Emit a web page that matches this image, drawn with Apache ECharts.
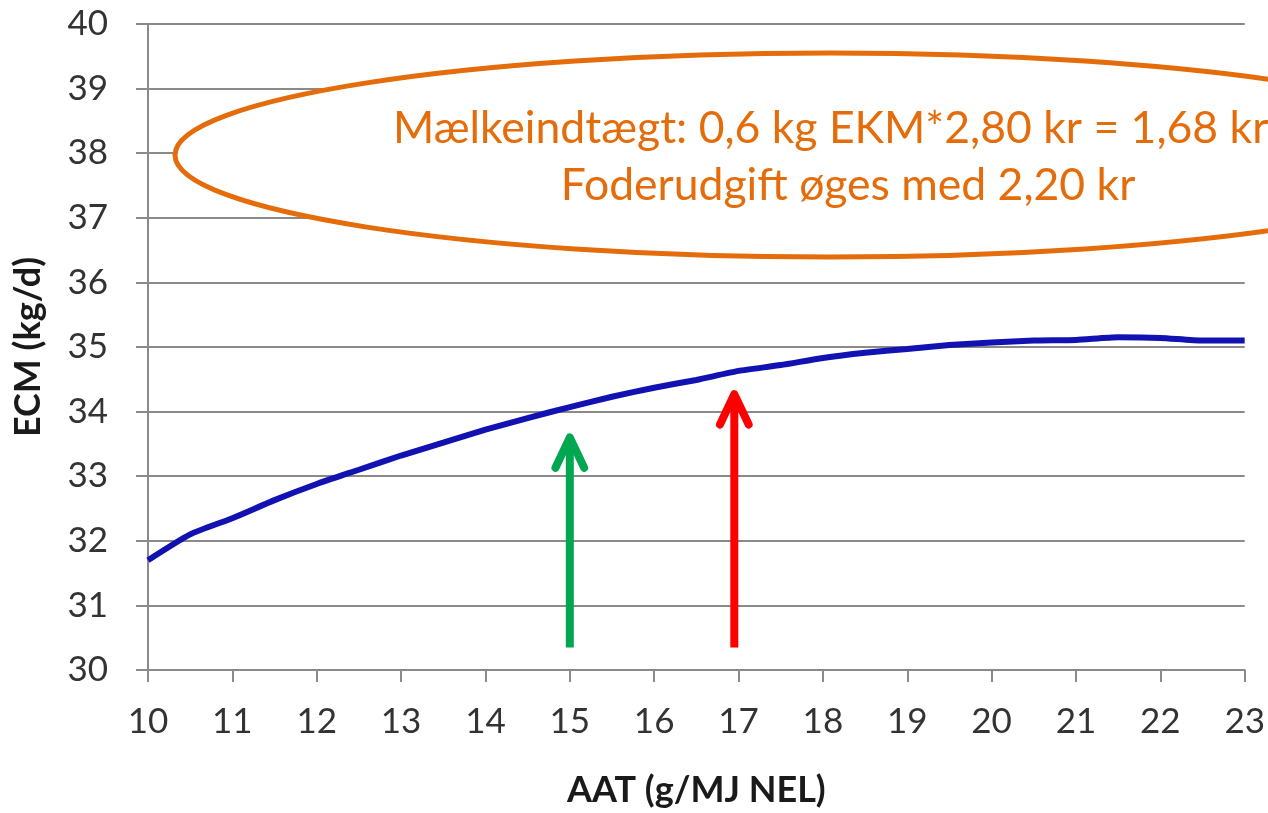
<!DOCTYPE html>
<html><head><meta charset="utf-8">
<script src="https://cdn.jsdelivr.net/npm/echarts@6/dist/echarts.min.js"></script>
<style>html,body{margin:0;padding:0;background:#fff}#c{width:1268px;height:813px}</style>
</head><body><div id="c"></div>
<script>
const aat = [10,10.5,11,11.5,12,12.5,13,13.5,14,14.5,15,15.5,16,16.5,17,17.5,18,18.5,19,19.5,20,20.5,21,21.5,22,22.5,23];
const ecm = [31.7,32.1,32.35,32.63,32.88,33.1,33.32,33.52,33.72,33.9,34.07,34.23,34.37,34.49,34.63,34.72,34.83,34.91,34.97,35.03,35.07,35.1,35.11,35.15,35.14,35.1,35.1];
const arrowX = [15, 16.95];
const arrowBase = [30.35, 30.35];
const arrowTip = [33.6, 34.27];
const arrowColors = ['#00A650', '#FF0000'];
const noteLine1 = 'Mælkeindtægt: 0,6 kg EKM*2,80 kr = 1,68 kr/dag';
const noteLine2 = 'Foderudgift øges med 2,20 kr';
const xTitle = 'AAT (g/MJ NEL)';
const yTitle = 'ECM (kg/d)';

const FONT = 'Lato, "Open Sans", sans-serif';
const chart = echarts.init(document.getElementById('c'), null, {renderer:'canvas'});
const series = [{
  type:'line', data: aat.map((x,i)=>[x, ecm[i]]), showSymbol:false, smooth:0.2,
  lineStyle:{color:'#1212B2', width:6}, silent:true, z:5
}];
arrowX.forEach((x,i)=>{
  series.push({type:'line', data:[[x, arrowBase[i]],[x, arrowTip[i]-0.05]], showSymbol:false, silent:true,
    lineStyle:{color:arrowColors[i], width:8, cap:'butt'}, z:6});
  series.push({type:'line', data:[[x-0.17, arrowTip[i]-0.47],[x, arrowTip[i]],[x+0.17, arrowTip[i]-0.47]], showSymbol:false, silent:true,
    lineStyle:{color:arrowColors[i], width:8, cap:'round', join:'round'}, z:6});
});
chart.setOption({
  animation:false,
  grid:{left:148, right:23, top:24, bottom:140, containLabel:false},
  xAxis:{type:'value', min:10, max:23, interval:1,
    name:xTitle, nameLocation:'middle', nameGap:102,
    nameTextStyle:{fontFamily:FONT, fontWeight:'bold', fontSize:36, color:'#1a1a1a'},
    axisLine:{lineStyle:{color:'#8a8a8a', width:2}},
    axisTick:{show:true, length:12, lineStyle:{color:'#8a8a8a', width:2}},
    axisLabel:{fontFamily:FONT, fontSize:35, color:'#333', margin:34},
    splitLine:{show:false}},
  yAxis:{type:'value', min:30, max:40, interval:1,
    name:yTitle, nameLocation:'middle', nameGap:102, nameRotate:90,
    nameTextStyle:{fontFamily:FONT, fontWeight:'bold', fontSize:36, color:'#1a1a1a'},
    axisLine:{show:true, lineStyle:{color:'#8a8a8a', width:2}},
    axisTick:{show:true, length:12, lineStyle:{color:'#8a8a8a', width:2}},
    axisLabel:{fontFamily:FONT, fontSize:35, color:'#333', margin:40},
    splitLine:{show:true, lineStyle:{color:'#8a8a8a', width:2}}},
  series: series,
  graphic:[
    {type:'ellipse', shape:{cx:830, cy:155, rx:655, ry:102}, style:{fill:'#fff', stroke:'#E46C0A', lineWidth:5}, z:10},
    {type:'text', x:393, y:129, style:{text:noteLine1, fill:'#E46C0A', font:'44.5px '+FONT, textAlign:'left', textVerticalAlign:'middle'}, z:11},
    {type:'text', x:848, y:186, style:{text:noteLine2, fill:'#E46C0A', font:'44.5px '+FONT, textAlign:'center', textVerticalAlign:'middle'}, z:11}
  ]
});
</script></body></html>
